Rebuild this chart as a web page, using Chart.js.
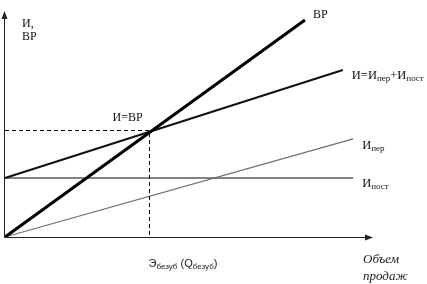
<!DOCTYPE html>
<html>
<head>
<meta charset="utf-8">
<script src="https://cdn.jsdelivr.net/npm/chart.js@4"></script>
<style>
    html, body { margin: 0; padding: 0; background: #fff; }
    #wrap { width: 427px; height: 284px; }
</style>
</head>
<body>
<div id="wrap"><canvas id="myChart" width="427" height="284"></canvas></div>
<script>
// значения (условные единицы, 0..100 по обеим осям)
const volumeX = [0, 81.5];            // ВР
const revenueY = [0, 96];
const totalX = [0, 91.8];             // И = Ипер + Ипост
const totalY = [26.1, 73.9];
const variableX = [0, 94.6];          // Ипер
const variableY = [0, 43.4];
const fixedX = [0, 94.6];             // Ипост
const fixedY = [26.1, 26.1];
const breakEven = [39.1, 47.3];       // И = ВР

function pts(xs, ys) {
    let out = [];
    for (let i = 0; i < xs.length; i++) {
        out.push({ x: xs[i], y: ys[i] });
    }
    return out;
}

// текст с нижними индексами: parts = [[текст, индекс?], ...]
function drawParts(ctx, parts, x, y, size, family) {
    let cx = x;
    for (let i = 0; i < parts.length; i++) {
        let sub = parts[i][1];
        ctx.font = (sub ? Math.round(size * 0.72) : size) + 'px ' + family;
        ctx.fillText(parts[i][0], cx, sub ? y + 2 : y);
        cx += ctx.measureText(parts[i][0]).width;
    }
}

const axesAndLabels = {
    id: 'axesAndLabels',
    afterDatasetsDraw(chart) {
        const ctx = chart.ctx;
        const a = chart.chartArea;
        const xs = chart.scales.x;
        const ys = chart.scales.y;
        ctx.save();

        // оси со стрелками
        ctx.strokeStyle = '#222';
        ctx.fillStyle = '#222';
        ctx.lineWidth = 1;
        ctx.beginPath();
        ctx.moveTo(a.left - 0.5, a.bottom + 0.5);
        ctx.lineTo(a.left - 0.5, a.top + 6);
        ctx.moveTo(a.left - 0.5, a.bottom + 0.5);
        ctx.lineTo(a.right - 6, a.bottom + 0.5);
        ctx.stroke();
        ctx.beginPath();
        ctx.moveTo(a.left - 0.5, a.top);
        ctx.lineTo(a.left - 3.5, a.top + 8);
        ctx.lineTo(a.left + 2.5, a.top + 8);
        ctx.fill();
        ctx.beginPath();
        ctx.moveTo(a.right, a.bottom + 0.5);
        ctx.lineTo(a.right - 8, a.bottom - 2.5);
        ctx.lineTo(a.right - 8, a.bottom + 3.5);
        ctx.fill();

        // пунктир к точке безубыточности
        const bx = Math.round(xs.getPixelForValue(breakEven[0])) + 0.5;
        const by = Math.round(ys.getPixelForValue(breakEven[1])) + 0.5;
        ctx.strokeStyle = '#000';
        ctx.setLineDash([4, 3]);
        ctx.beginPath();
        ctx.moveTo(a.left, by);
        ctx.lineTo(bx, by);
        ctx.lineTo(bx, a.bottom);
        ctx.stroke();
        ctx.setLineDash([]);

        // подписи
        ctx.fillStyle = '#111';
        ctx.textBaseline = 'alphabetic';
        const serif = '"Liberation Serif", "DejaVu Serif", serif';
        drawParts(ctx, [['И,', false]], a.left + 17, 27, 12, serif);
        drawParts(ctx, [['ВР', false]], a.left + 17, 40, 12, serif);

        const rx = xs.getPixelForValue(volumeX[1]);
        const ry = ys.getPixelForValue(revenueY[1]);
        drawParts(ctx, [['ВР', false]], rx + 8, ry - 2, 12, serif);

        const tx = xs.getPixelForValue(totalX[1]);
        const ty = ys.getPixelForValue(totalY[1]);
        drawParts(ctx, [['И=И', false], ['пер', true], ['+И', false], ['пост', true]], tx + 9, ty + 9, 12.5, serif);

        const vx = xs.getPixelForValue(variableX[1]);
        const vy = ys.getPixelForValue(variableY[1]);
        drawParts(ctx, [['И', false], ['пер', true]], vx + 9, vy + 10, 12.5, serif);

        const fx = xs.getPixelForValue(fixedX[1]);
        const fy = ys.getPixelForValue(fixedY[1]);
        drawParts(ctx, [['И', false], ['пост', true]], fx + 9, fy + 9, 12.5, serif);

        drawParts(ctx, [['И=ВР', false]], bx - 37, by - 10, 12, serif);

        ctx.fillStyle = '#222';
        const sans = '"Liberation Sans", Arial, sans-serif';
        drawParts(ctx, [['Э', false], ['безуб', true], [' (Q', false], ['безуб', true], [')', false]], bx - 1, 267, 11, sans);

        ctx.font = 'italic 13px "Liberation Serif", serif';
        ctx.fillText('Объем', a.right - 10, 263);
        ctx.fillText('продаж', a.right - 10, 280);

        ctx.restore();
    }
};

const ctx = document.querySelector('#myChart').getContext('2d');
const myChart = new Chart(ctx, {
    type: 'scatter',
    data: {
        datasets: [
            {
                label: 'ВР',
                data: pts(volumeX, revenueY),
                showLine: true,
                borderColor: '#000',
                borderWidth: 3,
                pointRadius: 0
            },
            {
                label: 'И',
                data: pts(totalX, totalY),
                showLine: true,
                borderColor: '#111',
                borderWidth: 2,
                pointRadius: 0
            },
            {
                label: 'Ипер',
                data: pts(variableX, variableY),
                showLine: true,
                borderColor: '#6e6e6e',
                borderWidth: 1.2,
                pointRadius: 0
            },
            {
                label: 'Ипост',
                data: pts(fixedX, fixedY),
                showLine: true,
                borderColor: '#5a5a5a',
                borderWidth: 1.5,
                pointRadius: 0
            }
        ]
    },
    options: {
        responsive: false,
        animation: false,
        clip: false,
        layout: { padding: { left: 5, right: 54, top: 11, bottom: 47 } },
        plugins: { legend: { display: false }, tooltip: { enabled: false } },
        scales: {
            x: { type: 'linear', min: 0, max: 100, display: false },
            y: { type: 'linear', min: 0, max: 100, display: false }
        }
    },
    plugins: [axesAndLabels]
});
</script>
</body>
</html>
